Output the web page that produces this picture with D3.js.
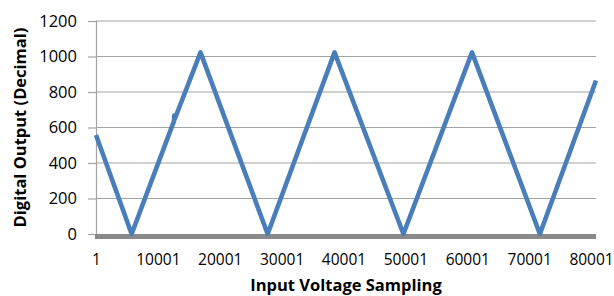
<!DOCTYPE html>
<html>
<head>
<meta charset="utf-8">
<script src="https://cdn.jsdelivr.net/npm/d3@7"></script>
<style>
  body { margin: 0; background: #fff; }
  svg { display: block; font-family: 'Open Sans', sans-serif; }
</style>
</head>
<body>
<svg width="614" height="296"></svg>
<script>
// triangle wave: sample index at each corner and the ADC value there
const samples = [1, 5760, 12600, 12650, 12700, 16890, 27740, 38550, 49680, 60760, 71730, 80800]
const outputs = [558, 0, 636, 668, 645, 1023, 0, 1023, 0, 1023, 0, 865]

const yTicks = [0, 200, 400, 600, 800, 1000, 1200]
const xTicks = [1, 10001, 20001, 30001, 40001, 50001, 60001, 70001, 80001]
const lastSample = 80800

const svg = d3.select('svg')
const margin = { top: 21, right: 18, bottom: 62, left: 96 }
const width = +svg.attr('width')
const height = +svg.attr('height')

const x = d3.scaleLinear()
  .domain([1, lastSample])
  .range([margin.left, width - margin.right])

const y = d3.scaleLinear()
  .domain([0, 1200])
  .range([height - margin.bottom, margin.top])

// gridlines
svg.append('g')
  .selectAll('line')
  .data(yTicks.filter(d => d > 0))
  .enter().append('line')
  .attr('x1', x.range()[0])
  .attr('x2', x.range()[1])
  .attr('y1', d => y(d))
  .attr('y2', d => y(d))
  .attr('stroke', '#a3a3a3')
  .attr('stroke-width', 1.2)

// y axis
const yAxis = svg.append('g')
  .attr('transform', `translate(${margin.left},0)`)
  .call(d3.axisLeft(y).tickValues(yTicks).tickSize(8).tickPadding(11).tickFormat(d3.format('d')))
yAxis.select('.domain').attr('stroke', '#a3a3a3').attr('stroke-width', 1.2)
yAxis.selectAll('.tick line').attr('stroke', '#a3a3a3').attr('stroke-width', 1.2)
yAxis.selectAll('.tick text')
  .attr('font-family', 'Open Sans')
  .attr('font-size', 16.5)
  .attr('fill', '#000')

// x axis: thick grey base line, labels only
svg.append('line')
  .attr('x1', x.range()[0] - 1)
  .attr('x2', x.range()[1])
  .attr('y1', y(0) + 2.5)
  .attr('y2', y(0) + 2.5)
  .attr('stroke', '#8a8a8a')
  .attr('stroke-width', 5)

const xAxis = svg.append('g')
  .attr('transform', `translate(0,${y(0)})`)
  .call(d3.axisBottom(x).tickValues(xTicks).tickSize(0).tickPadding(20).tickFormat(d3.format('d')))
xAxis.select('.domain').remove()
xAxis.selectAll('.tick text')
  .attr('font-family', 'Open Sans')
  .attr('font-size', 15.5)
  .attr('fill', '#000')

// the series
const line = d3.line()
  .x((d, i) => x(samples[i]))
  .y(d => y(d))

svg.append('path')
  .datum(outputs)
  .attr('d', line)
  .attr('fill', 'none')
  .attr('stroke', '#4a7ebb')
  .attr('stroke-width', 4.6)
  .attr('stroke-linejoin', 'round')

// axis titles
svg.append('text')
  .attr('transform', `translate(26,${(y(0) + y(1200)) / 2}) rotate(-90)`)
  .attr('text-anchor', 'middle')
  .attr('font-family', 'Open Sans')
  .attr('font-weight', 'bold')
  .attr('font-size', 16.5)
  .text('Digital Output (Decimal)')

svg.append('text')
  .attr('x', 346)
  .attr('y', 291)
  .attr('text-anchor', 'middle')
  .attr('font-family', 'Open Sans')
  .attr('font-weight', 'bold')
  .attr('font-size', 16.5)
  .text('Input Voltage Sampling')
</script>
</body>
</html>
